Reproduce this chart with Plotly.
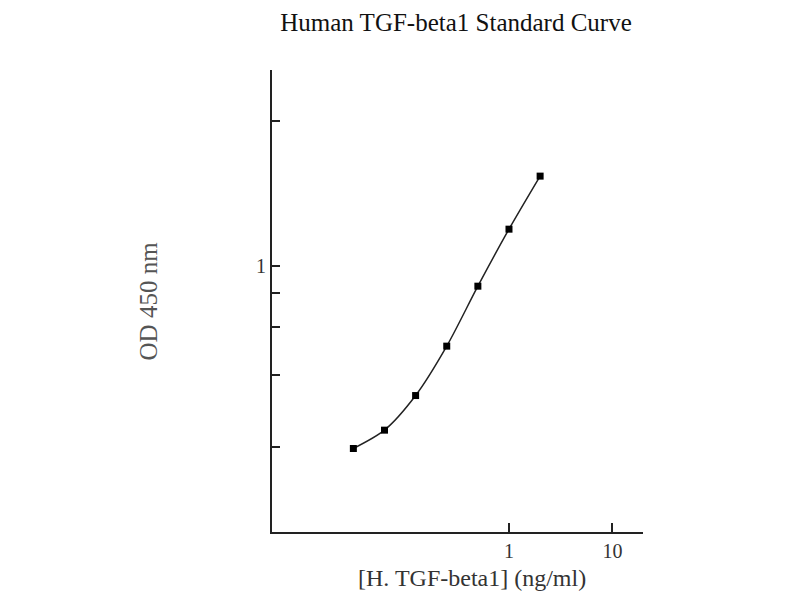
"""Human TGF-beta1 ELISA standard curve (log-log)."""

import plotly.graph_objects as go

# standard concentrations (ng/ml) and measured OD at 450 nm
concentration = [0.03125, 0.0625, 0.125, 0.25, 0.5, 1, 2]
od_450 = [0.217, 0.253, 0.338, 0.511, 0.844, 1.36, 2.12]

# axis ticks: only "1" is labelled on the y axis, the rest are bare ticks
x_tick_vals = [1, 10]
x_tick_text = ["1", "10"]
y_tick_vals = [0.22, 0.4, 0.6, 0.8, 1, 3.36]
y_tick_text = ["", "", "", "", "1", ""]

FONT = "Liberation Serif"

fig = go.Figure()
fig.add_trace(
    go.Scatter(
        x=concentration,
        y=od_450,
        mode="lines+markers",
        line=dict(color="#222222", width=1.5, shape="spline", smoothing=0.8),
        marker=dict(symbol="square", size=7, color="black"),
        showlegend=False,
    )
)

# page body adds an 8px offset, margins compensate for it
fig.update_layout(
    width=800,
    height=600,
    margin=dict(l=264, r=165, t=62, b=76),
    paper_bgcolor="white",
    plot_bgcolor="white",
    font=dict(family=FONT, color="#111111"),
    title=dict(
        text="Human TGF-beta1 Standard Curve",
        x=448 / 800,
        xanchor="center",
        xref="container",
        y=1 - 5 / 600,
        yanchor="top",
        yref="container",
        font=dict(family=FONT, size=25, color="#111111"),
    ),
    xaxis=dict(
        type="log",
        range=[-2.292, 1.296],
        tickvals=x_tick_vals,
        ticktext=x_tick_text,
        ticks="inside",
        ticklen=9,
        tickwidth=2,
        tickcolor="#222222",
        showline=True,
        linecolor="#222222",
        linewidth=2,
        showgrid=False,
        zeroline=False,
        tickfont=dict(size=20, color="#333333"),
    ),
    yaxis=dict(
        type="log",
        range=[-0.967, 0.712],
        tickvals=y_tick_vals,
        ticktext=y_tick_text,
        ticks="inside",
        ticklen=8,
        tickwidth=2,
        tickcolor="#222222",
        showline=True,
        linecolor="#222222",
        linewidth=2,
        showgrid=False,
        zeroline=False,
        tickfont=dict(size=20, color="#333333"),
    ),
    annotations=[
        dict(
            text="[H. TGF-beta1] (ng/ml)",
            x=0.539,
            y=-0.0996,
            xref="paper",
            yref="paper",
            xanchor="center",
            yanchor="middle",
            showarrow=False,
            font=dict(family=FONT, size=24, color="#333333"),
        ),
        dict(
            text="OD 450 nm",
            x=-0.333,
            y=0.5,
            xref="paper",
            yref="paper",
            xanchor="center",
            yanchor="middle",
            textangle=-90,
            showarrow=False,
            font=dict(family=FONT, size=25, color="#555555"),
        ),
    ],
)

fig.write_html("out.html")
